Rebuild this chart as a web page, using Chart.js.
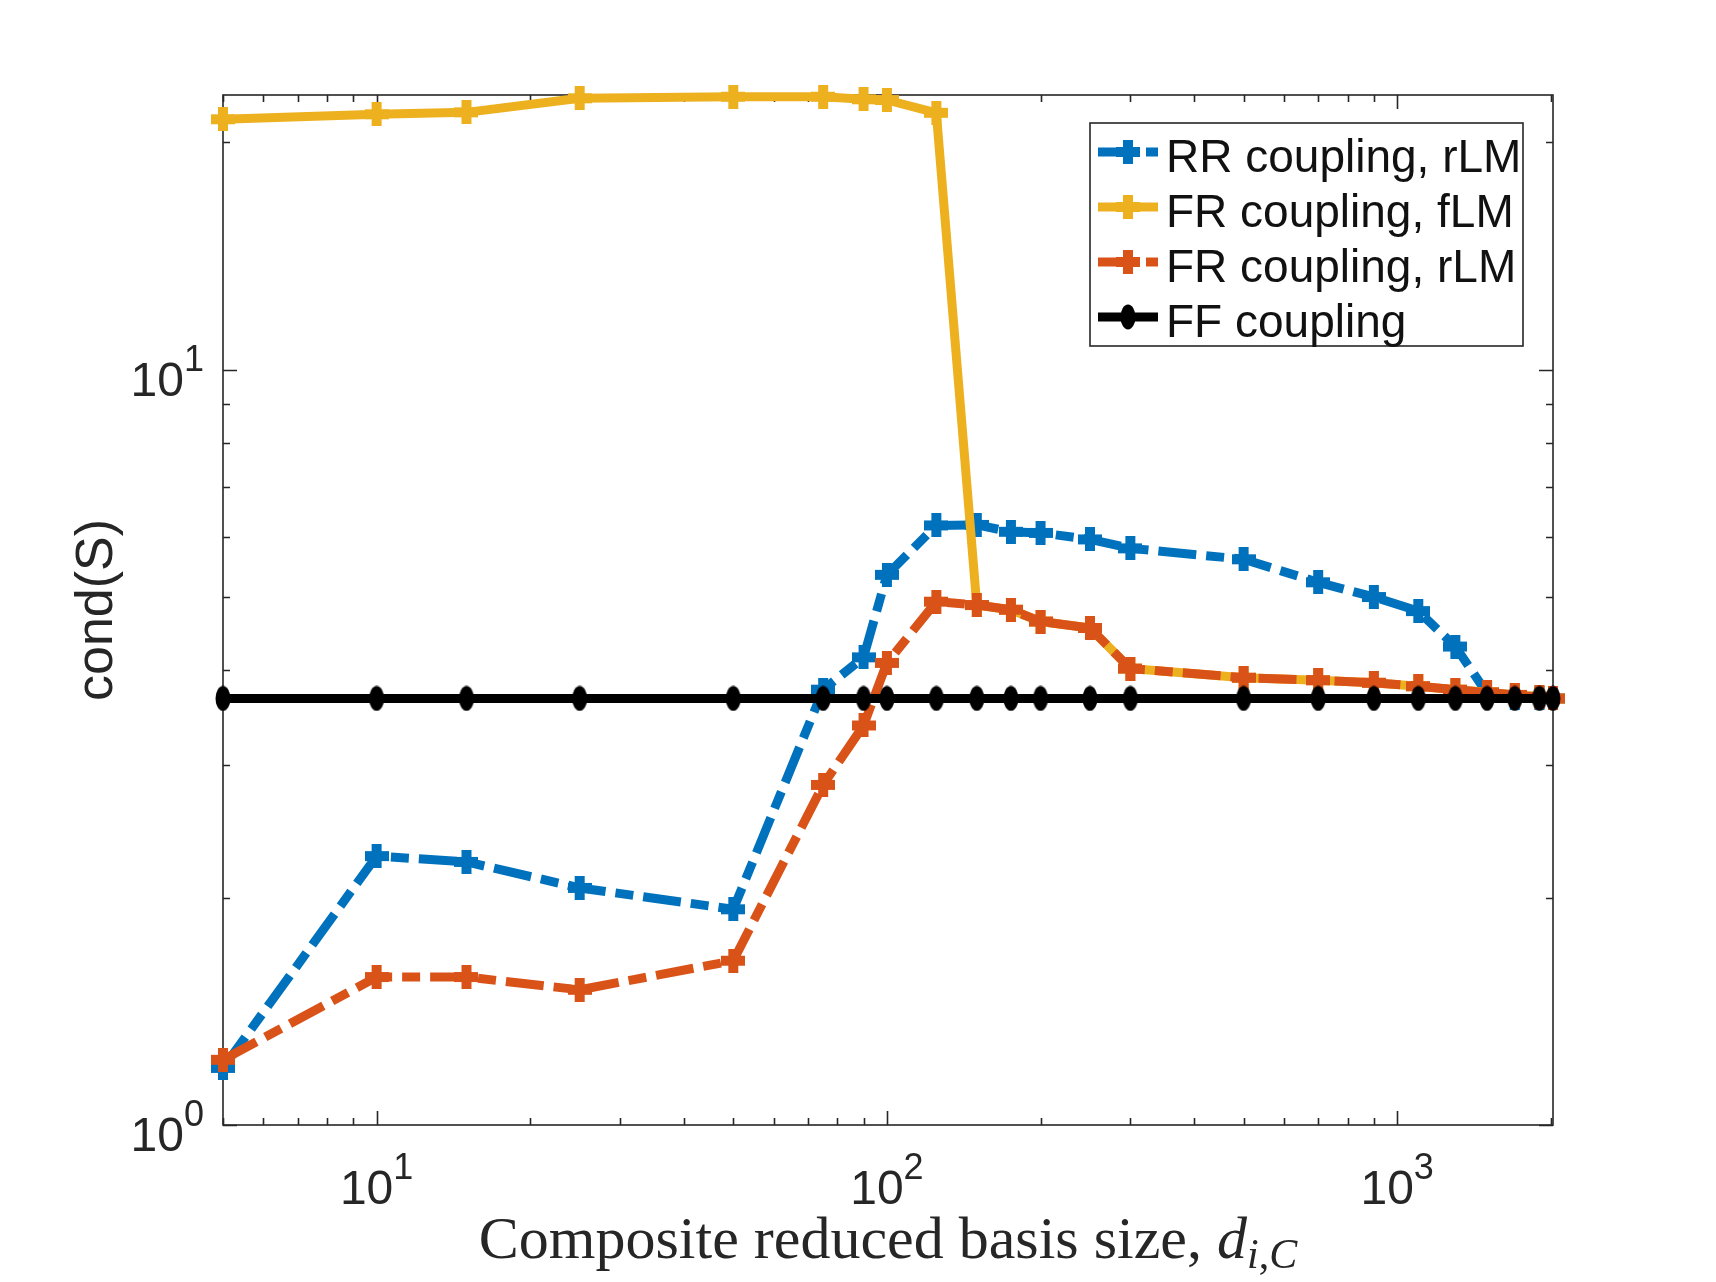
<!DOCTYPE html>
<html>
<head>
<meta charset="utf-8">
<script src="https://cdn.jsdelivr.net/npm/chart.js@4/dist/chart.umd.min.js"></script>
<style>
  html, body { margin: 0; padding: 0; background: #ffffff; }
  #grafica { display: block; }
</style>
</head>
<body>
<canvas id="grafica" width="1716" height="1282"></canvas>
<script>
// tamaños de base reducida (eje x)
var tamanosBase = [5, 10, 15, 25, 50, 75, 90, 100, 125, 150, 175, 200, 250, 300, 500, 700, 900, 1100, 1300, 1500, 1700, 1900, 2020];

// cond(S) de cada acoplamiento
var condRR_rLM = [1.19, 2.27, 2.23, 2.06, 1.93, 3.77, 4.16, 5.35, 6.22, 6.23, 6.10, 6.08, 5.96, 5.80, 5.61, 5.23, 5.00, 4.79, 4.30, 3.73, 3.68, 3.68, 3.67];
var condFR_fLM = [21.45, 21.78, 21.91, 22.87, 22.98, 22.98, 22.80, 22.75, 21.88, 4.88, 4.81, 4.64, 4.55, 4.02, 3.91, 3.88, 3.85, 3.81, 3.77, 3.74, 3.71, 3.69, 3.67];
var condFR_rLM = [1.22, 1.57, 1.57, 1.51, 1.65, 2.82, 3.38, 4.09, 4.93, 4.88, 4.81, 4.64, 4.55, 4.02, 3.91, 3.88, 3.85, 3.81, 3.77, 3.74, 3.71, 3.69, 3.67];
var condFF = [3.67, 3.67, 3.67, 3.67, 3.67, 3.67, 3.67, 3.67, 3.67, 3.67, 3.67, 3.67, 3.67, 3.67, 3.67, 3.67, 3.67, 3.67, 3.67, 3.67, 3.67, 3.67, 3.67];

var nombresSeries = ["RR coupling, rLM", "FR coupling, fLM", "FR coupling, rLM", "FF coupling"];

// ticks de los ejes (base 10, exponente)
var ticksX = [10, 100, 1000];
var exponentesX = ["1", "2", "3"];
var ticksY = [1, 10];
var exponentesY = ["0", "1"];

var limitesX = [5, 2020];
var limitesY = [1, 23.1];

var tituloX = "Composite reduced basis size, ";
var tituloY = "cond(S)";

var AZUL = "#0072BD", AMARILLO = "#EDB120", NARANJA = "#D95319", NEGRO = "#000000";
var GRIS_EJE = "#262626";
var RAYA_PUNTO = [38, 10, 18, 10];

// marcador "+" grueso como imagen
function marcaCruz(color) {
    var lienzo = document.createElement("canvas");
    lienzo.width = 24;
    lienzo.height = 24;
    var c = lienzo.getContext("2d");
    c.fillStyle = color;
    c.fillRect(0, 7, 24, 10);
    c.fillRect(7, 0, 10, 24);
    return lienzo;
}

// marcador del FF: punto alargado
var marcaFF = document.createElement("canvas");
marcaFF.width = 16;
marcaFF.height = 26;
(function () {
    var c = marcaFF.getContext("2d");
    c.fillStyle = NEGRO;
    c.beginPath();
    c.ellipse(8, 13, 7.5, 12.5, 0, 0, Math.PI * 2);
    c.fill();
})();

function puntos(valores) {
    var lista = [];
    for (let i = 0; i < tamanosBase.length; i++) {
        lista.push({x: tamanosBase[i], y: valores[i]});
    }
    return lista;
}

function serie(nombre, valores, color, raya, marca, orden) {
    return {
        label: nombre,
        data: puntos(valores),
        borderColor: color,
        backgroundColor: color,
        borderWidth: 9,
        borderDash: raya,
        borderJoinStyle: "round",
        pointStyle: marca,
        pointRadius: 12,
        pointHoverRadius: 12,
        fill: false,
        tension: 0,
        clip: false,
        order: orden
    };
}

function ticksLog(min, max) {
    var lista = [];
    for (let k = Math.floor(Math.log10(min)); k <= Math.ceil(Math.log10(max)); k++) {
        for (let m = 1; m < 10; m++) {
            var v = m * Math.pow(10, k);
            if (v >= min && v <= max) lista.push({v: v, mayor: m == 1});
        }
    }
    return lista;
}

// caja, ticks hacia dentro y etiquetas estilo MATLAB
var ejesMatlab = {
    id: "ejesMatlab",
    beforeDatasetsDraw: function (chart) {
        var ctx = chart.ctx;
        var area = chart.chartArea;
        var ex = chart.scales.x, ey = chart.scales.y;
        ctx.save();
        ctx.strokeStyle = GRIS_EJE;
        ctx.lineWidth = 1.6;
        ctx.strokeRect(area.left, area.top, area.right - area.left, area.bottom - area.top);
        ctx.beginPath();
        ticksLog(limitesX[0], limitesX[1]).forEach(function (t) {
            var px = Math.round(ex.getPixelForValue(t.v)) + 0.5;
            var largo = t.mayor ? 14 : 7;
            ctx.moveTo(px, area.bottom);
            ctx.lineTo(px, area.bottom - largo);
            ctx.moveTo(px, area.top);
            ctx.lineTo(px, area.top + largo);
        });
        ticksLog(limitesY[0], limitesY[1]).forEach(function (t) {
            var py = Math.round(ey.getPixelForValue(t.v)) + 0.5;
            var largo = t.mayor ? 14 : 7;
            ctx.moveTo(area.left, py);
            ctx.lineTo(area.left + largo, py);
            ctx.moveTo(area.right, py);
            ctx.lineTo(area.right - largo, py);
        });
        ctx.stroke();

        // etiquetas de ticks
        ctx.fillStyle = GRIS_EJE;
        ctx.textBaseline = "alphabetic";
        ctx.textAlign = "left";
        var fBase = "48px 'Liberation Sans', Arial, sans-serif";
        var fExp = "36px 'Liberation Sans', Arial, sans-serif";
        ctx.font = fBase;
        var anchoDiez = ctx.measureText("10").width;
        for (let i = 0; i < ticksX.length; i++) {
            var px = ex.getPixelForValue(ticksX[i]);
            ctx.font = fExp;
            var anchoExp = ctx.measureText(exponentesX[i]).width;
            var x0 = px - (anchoDiez + anchoExp) / 2;
            ctx.font = fBase;
            ctx.fillText("10", x0, 1204);
            ctx.font = fExp;
            ctx.fillText(exponentesX[i], x0 + anchoDiez, 1179);
        }
        for (let i = 0; i < ticksY.length; i++) {
            var py = ey.getPixelForValue(ticksY[i]);
            ctx.font = fExp;
            var anchoExpY = ctx.measureText(exponentesY[i]).width;
            var xFin = area.left - 19;
            ctx.font = fBase;
            ctx.fillText("10", xFin - anchoExpY - anchoDiez, py + 26);
            ctx.font = fExp;
            ctx.fillText(exponentesY[i], xFin - anchoExpY, py + 1);
        }

        // titulo eje y
        ctx.save();
        ctx.translate(112, (area.top + area.bottom) / 2);
        ctx.rotate(-Math.PI / 2);
        ctx.textAlign = "center";
        ctx.font = "52px 'Liberation Sans', Arial, sans-serif";
        ctx.fillText(tituloY, 0, 0);
        ctx.restore();

        // titulo eje x (estilo LaTeX)
        var fSerif = "60px 'Liberation Serif', 'Times New Roman', serif";
        var fSerifIt = "italic 60px 'Liberation Serif', 'Times New Roman', serif";
        var fSubIt = "italic 42px 'Liberation Serif', 'Times New Roman', serif";
        var fSub = "42px 'Liberation Serif', 'Times New Roman', serif";
        var trozos = [
            {t: tituloX, f: fSerif, dy: 0},
            {t: "d", f: fSerifIt, dy: 0},
            {t: "i", f: fSubIt, dy: 10},
            {t: ",", f: fSub, dy: 10},
            {t: "C", f: fSubIt, dy: 10}
        ];
        var total = 0;
        trozos.forEach(function (p) { ctx.font = p.f; p.w = ctx.measureText(p.t).width; total += p.w; });
        var xt = (area.left + area.right) / 2 - total / 2;
        trozos.forEach(function (p) {
            ctx.font = p.f;
            ctx.fillText(p.t, xt, 1258 + p.dy);
            xt += p.w;
        });
        ctx.restore();
    },
    afterDatasetsDraw: function (chart) {
        var ctx = chart.ctx;
        var caja = {x: 1090, y: 123, w: 433, h: 223};
        ctx.save();
        ctx.fillStyle = "#ffffff";
        ctx.fillRect(caja.x, caja.y, caja.w, caja.h);
        ctx.strokeStyle = GRIS_EJE;
        ctx.lineWidth = 1.6;
        ctx.strokeRect(caja.x, caja.y, caja.w, caja.h);

        var filas = [0, 1, 2, 3];
        filas.forEach(function (f) {
            var ds = chart.data.datasets[f];
            var yl = 152 + f * 55;
            ctx.save();
            ctx.beginPath();
            ctx.rect(1098, yl - 10, 60, 20);
            ctx.clip();
            ctx.strokeStyle = ds.borderColor;
            ctx.lineWidth = ds.borderWidth;
            ctx.setLineDash(ds.borderDash || []);
            ctx.beginPath();
            ctx.moveTo(1098, yl);
            ctx.lineTo(1170, yl);
            ctx.stroke();
            ctx.restore();
            var m = ds.pointStyle;
            ctx.drawImage(m, 1128 - m.width / 2, yl - m.height / 2);
            ctx.fillStyle = "#111111";
            ctx.font = "46px 'Liberation Sans', Arial, sans-serif";
            ctx.textBaseline = "alphabetic";
            ctx.fillText(ds.label, 1166, 172 + f * 55);
        });
        ctx.restore();
    }
};

var ctx = document.getElementById("grafica").getContext("2d");

new Chart(ctx, {
    type: "line",
    data: {
        datasets: [
            serie(nombresSeries[0], condRR_rLM, AZUL, RAYA_PUNTO, marcaCruz(AZUL), 3),
            serie(nombresSeries[1], condFR_fLM, AMARILLO, [], marcaCruz(AMARILLO), 2),
            serie(nombresSeries[2], condFR_rLM, NARANJA, RAYA_PUNTO, marcaCruz(NARANJA), 1),
            serie(nombresSeries[3], condFF, NEGRO, [], marcaFF, 0)
        ]
    },
    options: {
        responsive: false,
        animation: false,
        devicePixelRatio: 1,
        layout: {padding: {left: 223, right: 163, top: 95, bottom: 157}},
        scales: {
            x: {type: "logarithmic", min: limitesX[0], max: limitesX[1], display: false},
            y: {type: "logarithmic", min: limitesY[0], max: limitesY[1], display: false}
        },
        plugins: {
            legend: {display: false},
            tooltip: {enabled: false}
        },
        events: []
    },
    plugins: [ejesMatlab]
});
</script>
</body>
</html>
